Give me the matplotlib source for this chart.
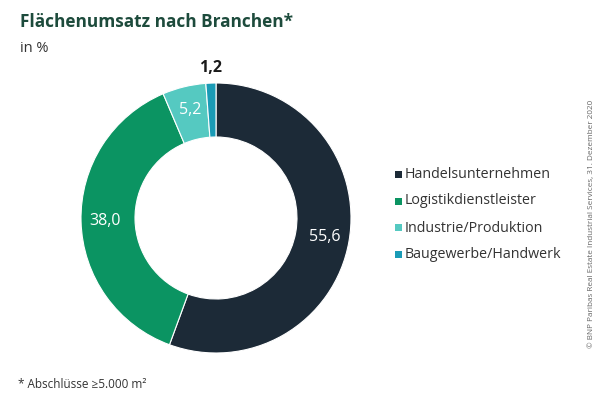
import numpy as np
import matplotlib
matplotlib.use("Agg")
import matplotlib.pyplot as plt
from matplotlib.patches import Rectangle

categories = ["Handelsunternehmen", "Logistikdienstleister", "Industrie/Produktion", "Baugewerbe/Handwerk"]
values = [55.6, 38.0, 5.2, 1.2]
value_labels = ["55,6", "38,0", "5,2", "1,2"]
colors = ["#1c2a37", "#0b9462", "#55c9c1", "#1a9bb6"]

plt.rcParams['font.family'] = ['Open Sans', 'DejaVu Sans']

W, H = 600, 396
fig = plt.figure(figsize=(6, 3.96), dpi=100)
fig.patch.set_facecolor("white")

cx, cy, R = 216, 218, 135
ax = fig.add_axes([(cx - R) / W, (H - cy - R) / H, 2 * R / W, 2 * R / H])
wedges, _ = ax.pie(values, colors=colors, startangle=90, counterclock=False,
                   radius=1.0, wedgeprops=dict(width=0.4, edgecolor="white", linewidth=0.8))
ax.set_xlim(-1, 1)
ax.set_ylim(-1, 1)
ax.set_aspect("equal")
ax.axis("off")

for w, lab, v in zip(wedges, value_labels, values):
    mid = np.deg2rad((w.theta1 + w.theta2) / 2)
    if v < 3:
        r, col, fw = 1.11, "#1a1a1a", "bold"
    else:
        r, col, fw = 0.82, "white", "medium"
    ax.text(r * np.cos(mid), r * np.sin(mid), lab, ha="center", va="center",
            fontsize=11.5, color=col, fontweight=fw, clip_on=False)

# Title and subtitle
fig.text(20 / W, 1 - 22 / H, "Flächenumsatz nach Branchen*", fontsize=12.4, fontweight="bold",
         color="#1d4b3c", ha="left", va="center")
fig.text(20 / W, 1 - 48 / H, "in %", fontsize=10.5, color="#333333", ha="left", va="center")

# Legend
ys = [174, 201, 228, 254]
for cat, col, y in zip(categories, colors, ys):
    fig.patches.append(Rectangle((395 / W, 1 - (y + 3.5) / H), 7 / W, 7 / H,
                                 transform=fig.transFigure, facecolor=col, edgecolor="none"))
    fig.text(405 / W, 1 - y / H, cat, fontsize=10.3, color="#333333", ha="left", va="center")

# Footnote
fig.text(18 / W, 1 - 385 / H, "* Abschlüsse ≥5.000 m²", fontsize=8.5, color="#333333",
         ha="left", va="center")

# Copyright
fig.text(592 / W, 1 - 224 / H, "© BNP Paribas Real Estate Industrial Services, 31. Dezember 2020",
         fontsize=5.9, color="#666666", rotation=90, ha="center", va="center")

fig.savefig("out.png", dpi=100, facecolor="white")
